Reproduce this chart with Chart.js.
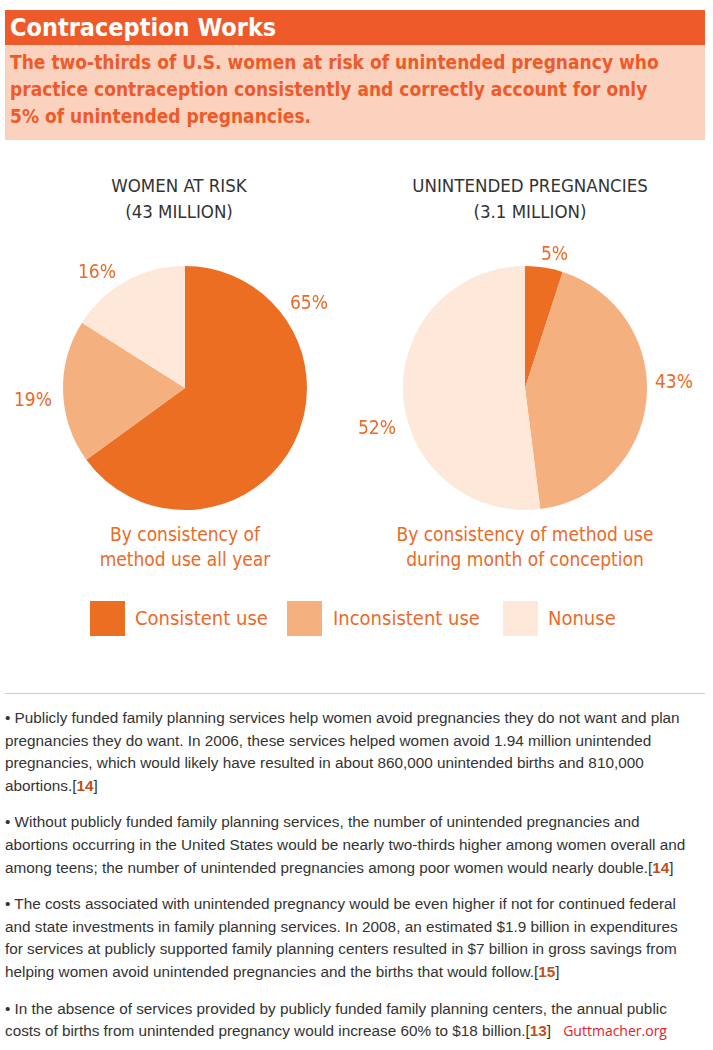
<!DOCTYPE html>
<html><head><meta charset="utf-8">
<script src="https://cdn.jsdelivr.net/npm/chart.js@4/dist/chart.umd.min.js"></script>
<style>
body{margin:0;width:713px;height:1050px;position:relative;background:#fff;font-family:"DejaVu Sans Condensed",sans-serif;overflow:hidden}
.abs{position:absolute}
#hdr{left:5px;top:10px;width:700px;height:35px;background:#EE5A2A;color:#fff;font-weight:bold;font-size:25px;line-height:35px;text-indent:5px}
#sub{left:5px;top:45px;width:690px;background:#FAD2BE;color:#EE5A2A;font-weight:bold;font-size:19px;line-height:27px;padding:4px 5px;height:87px}
.ttl{font-size:18.5px;color:#333;text-align:center;line-height:26px;width:300px}
.pct{font-size:19px;color:#EC6A28}
.cap{font-size:19px;color:#EC6A28;text-align:center;line-height:25px;width:330px}
.sq{width:35px;height:35px}
.lg{font-size:20px;color:#EC6A28;line-height:35px}
#body{left:5px;top:707px;width:690px;font-family:"Liberation Sans",Arial,sans-serif;font-size:15.3px;line-height:22.6px;color:#333}
#body p{margin:0 0 14px 0}
#body b{color:#C0501A}
canvas{position:absolute}
</style></head><body>
<div id="hdr" class="abs">Contraception Works</div>
<div id="sub" class="abs">The two-thirds of U.S. women at risk of unintended pregnancy who<br>practice contraception consistently and correctly account for only<br>5% of unintended pregnancies.</div>
<div class="abs ttl" style="left:29px;top:173px">WOMEN AT RISK<br>(43 MILLION)</div>
<div class="abs ttl" style="left:380px;top:173px">UNINTENDED PREGNANCIES<br>(3.1 MILLION)</div>
<div class="abs" style="left:55px;top:258px;width:260px;height:260px"><canvas id="c1"></canvas></div>
<div class="abs" style="left:395px;top:258px;width:260px;height:260px"><canvas id="c2"></canvas></div>
<div class="abs pct" style="left:78px;top:260px">16%</div>
<div class="abs pct" style="left:290px;top:291px">65%</div>
<div class="abs pct" style="left:14px;top:388px">19%</div>
<div class="abs pct" style="left:541px;top:242px">5%</div>
<div class="abs pct" style="left:655px;top:370px">43%</div>
<div class="abs pct" style="left:358px;top:416px">52%</div>
<div class="abs cap" style="left:20px;top:522px">By consistency of<br>method use all year</div>
<div class="abs cap" style="left:360px;top:522px">By consistency of method use<br>during month of conception</div>
<div id="legend"></div>
<div class="abs" style="left:5px;top:693px;width:700px;height:1px;background:#ccc"></div>
<div id="body" class="abs">
<p>• Publicly funded family planning services help women avoid pregnancies they do not want and plan pregnancies they do want. In 2006, these services helped women avoid 1.94 million unintended pregnancies, which would likely have resulted in about 860,000 unintended births and 810,000 abortions.[<b>14</b>]</p>
<p>• Without publicly funded family planning services, the number of unintended pregnancies and abortions occurring in the United States would be nearly two-thirds higher among women overall and among teens; the number of unintended pregnancies among poor women would nearly double.[<b>14</b>]</p>
<p>• The costs associated with unintended pregnancy would be even higher if not for continued federal and state investments in family planning services. In 2008, an estimated $1.9 billion in expenditures for services at publicly supported family planning centers resulted in $7 billion in gross savings from helping women avoid unintended pregnancies and the births that would follow.[<b>15</b>]</p>
<p>• In the absence of services provided by publicly funded family planning centers, the annual public costs of births from unintended pregnancy would increase 60% to $18 billion.[<b>13</b>] <span style="color:#E8202A;font-family:'Open Sans',sans-serif;font-size:14px;margin-left:8px">Guttmacher.org</span></p>
</div>
<script>
const categories=["Consistent use","Inconsistent use","Nonuse"];
const womenAtRisk=[65,19,16];
const unintendedPregnancies=[5,43,52];
const colors=["#EB6E23","#F5B080","#FDE8DA"];
function pie(id,data){
 new Chart(document.getElementById(id),{type:'pie',
  data:{labels:categories,datasets:[{data:data,backgroundColor:colors,borderWidth:0}]},
  options:{responsive:true,maintainAspectRatio:false,animation:false,layout:{padding:8},
   plugins:{legend:{display:false},tooltip:{enabled:false}}}});
}
pie('c1',womenAtRisk);pie('c2',unintendedPregnancies);
const lx=[[90,135],[287,333],[503,548]];
const lg=document.getElementById('legend');
categories.forEach((c,i)=>{
 lg.insertAdjacentHTML('beforeend',`<div class="abs sq" style="left:${lx[i][0]}px;top:601px;background:${colors[i]}"></div><div class="abs lg" style="left:${lx[i][1]}px;top:601px">${c}</div>`);
});
</script>
</body></html>
